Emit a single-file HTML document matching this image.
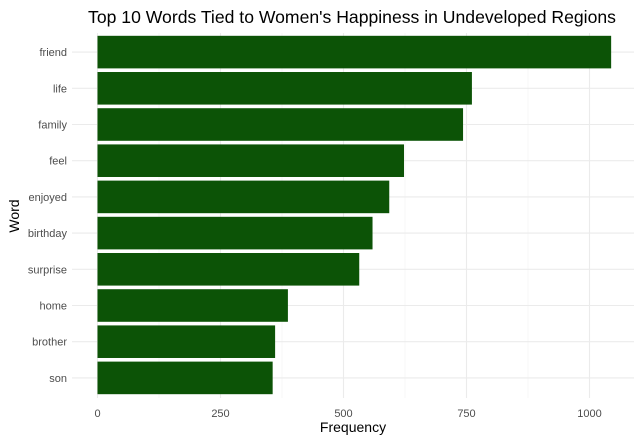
<!DOCTYPE html>
<html><head><meta charset="utf-8"><style>
body{margin:0;background:#fff;font-family:"Liberation Sans",sans-serif}
</style></head><body>
<svg id="c" width="643" height="442" xmlns="http://www.w3.org/2000/svg">
<text x="352" y="23" font-size="17.6" text-anchor="middle" fill="#000">Top 10 Words Tied to Women's Happiness in Undeveloped Regions</text>
<text x="353" y="432" font-size="14" text-anchor="middle" fill="#000">Frequency</text>
<text x="19" y="216" font-size="14" text-anchor="middle" fill="#000" transform="rotate(-90 19 216)">Word</text>
<g id="grid"></g><g id="bars"></g><g id="labels"></g>
</svg>
<script>
const categories = ["friend","life","family","feel","enjoyed","birthday","surprise","home","brother","son"];
const values = [1044,761,743,623,593,559,532,387,361,356];
const xTicks = [0,250,500,750,1000];
const xMinor = [125,375,625,875];
const NS="http://www.w3.org/2000/svg";
const x0=97.5, kx=0.492, pLeft=72, pRight=634, pTop=34, bandH=36.2;
const X=v=>x0+v*kx;
const Y=i=>pTop+bandH*(i+0.5);
function mk(t,a,p){const e=document.createElementNS(NS,t);for(const n in a)e.setAttribute(n,a[n]);p.appendChild(e);return e;}
const gG=document.getElementById('grid'), gB=document.getElementById('bars'), gL=document.getElementById('labels');
const pBottom=pTop+bandH*categories.length;
xMinor.forEach(v=>{const l=mk('line',{x1:X(v),x2:X(v),y1:pTop-1,y2:pBottom+2,stroke:'#f2f2f2','stroke-width':0.6},gG);

});
xTicks.forEach(v=>{const l=mk('line',{x1:X(v),x2:X(v),y1:pTop-1,y2:pBottom+2,stroke:'#ebebeb','stroke-width':1.1},gG);


const t=mk('text',{x:X(v),y:pBottom+21,'font-size':11,'text-anchor':'middle',fill:'#4d4d4d'},gL);t.textContent=v;

});
categories.forEach((c,i)=>{const l=mk('line',{x1:pLeft,x2:pRight,y1:Y(i),y2:Y(i),stroke:'#ebebeb','stroke-width':1.1},gG);


const r=mk('rect',{x:X(0),y:Y(i)-bandH*0.45,width:X(values[i])-X(0),height:bandH*0.9,fill:'#0c5306'},gB);


const t=mk('text',{x:67,y:Y(i)+4,'font-size':11,'text-anchor':'end',fill:'#4d4d4d'},gL);t.textContent=c;

});
</script>
</body></html>
